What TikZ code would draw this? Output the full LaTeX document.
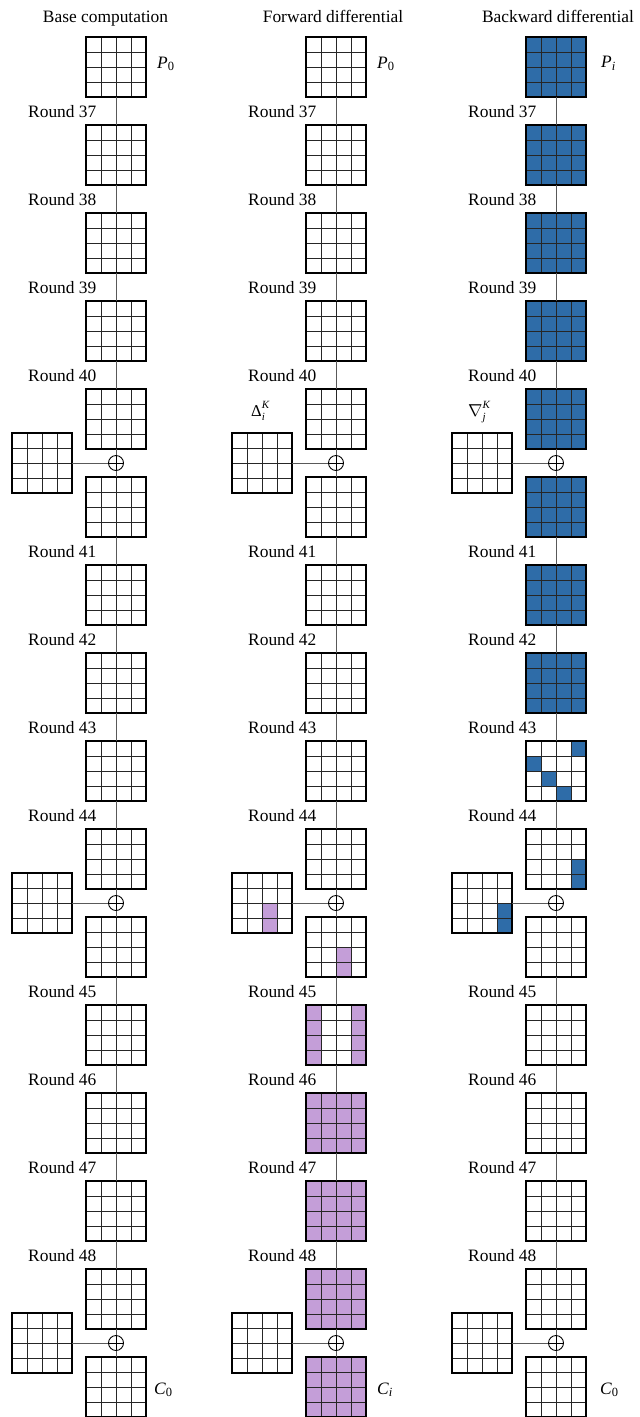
\documentclass[tikz,border=0pt]{standalone}
\usepackage{fontspec}
\setmainfont{Liberation Serif}
\usetikzlibrary{calc}
\definecolor{cblue}{RGB}{46,108,168}
\definecolor{cpurple}{RGB}{196,158,216}
\tikzset{
  gridbox/.style={rectangle, minimum width=60pt, minimum height=60pt, inner sep=0pt, outer sep=0pt, draw=none},
  outerline/.style={draw=black, line width=1.6pt},
  innerline/.style={draw=black!85, line width=1pt},
  conn/.style={draw=black!65, line width=1pt},
  xorop/.style={circle, draw=black, line width=0.9pt, minimum size=15pt, inner sep=0pt,
    path picture={\draw[line width=0.9pt] (path picture bounding box.north) -- (path picture bounding box.south)
      (path picture bounding box.west) -- (path picture bounding box.east);}},
  lbl/.style={anchor=base west, inner sep=0pt, font=\fontsize{17.4}{20}\selectfont},
  ttl/.style={anchor=base, inner sep=0pt, font=\fontsize{17.4}{20}\selectfont},
}
% #1 name, #2 left x, #3 top y, #4 base fill, #5 list of col/row/colour
\newcommand\cgrid[5]{%
  \node[gridbox, fill=#4] (#1) at (#2+30,#3+30) {};%
  \def\cglist{#5}%
  \ifx\cglist\empty\else
    \foreach \cgc/\cgr/\cgf in {#5}{\fill[\cgf] ($(#1.north west)+(\cgc*15,\cgr*15)$) rectangle +(15,15);}%
  \fi
  \foreach \cgi in {1,2,3}{%
    \draw[innerline] ($(#1.north west)+(\cgi*15,0)$) -- ($(#1.north west)+(\cgi*15,60)$);
    \draw[innerline] ($(#1.north west)+(0,\cgi*15)$) -- ($(#1.north west)+(60,\cgi*15)$);}%
  \draw[outerline] (#1.north west) rectangle (#1.south east);%
}
% #1 prefix, #2 left x of main grids
\newcommand\wiring[2]{%
  \node[xorop] (#1x1) at (#2+30,463) {};
  \node[xorop] (#1x2) at (#2+30,903) {};
  \node[xorop] (#1x3) at (#2+30,1343) {};
  \foreach \wa/\wb in {0/1,1/2,2/3,3/4,5/6,6/7,7/8,8/9,10/11,11/12,12/13,13/14}{%
    \draw[conn] (#1\wa.south) -- (#1\wb.north);}
  \draw[conn] (#14.south) -- (#1x1.north);
  \draw[conn] (#1x1.south) -- (#15.north);
  \draw[conn] (#19.south) -- (#1x2.north);
  \draw[conn] (#1x2.south) -- (#110.north);
  \draw[conn] (#114.south) -- (#1x3.north);
  \draw[conn] (#1x3.south) -- (#115.north);
  \draw[conn] (#1k1.east) -- (#1x1.west);
  \draw[conn] (#1k2.east) -- (#1x2.west);
  \draw[conn] (#1k3.east) -- (#1x3.west);
  \foreach \wn/\wg in {37/1,38/2,39/3,40/4,41/6,42/7,43/8,44/9,45/11,46/12,47/13,48/14}{%
    \node[lbl] (#1r\wn) at (#2-58,29.5+88*\wg) {Round \wn};}
}
\newcommand\subtxt[1]{\raisebox{-2.5pt}{\fontsize{12.5}{12}\selectfont #1}}
\newcommand\supsub[3]{#1\rlap{\raisebox{8pt}{\fontsize{11}{10}\selectfont\itshape #2}}\raisebox{-4.5pt}{\fontsize{11}{10}\selectfont\itshape #3}}
\begin{document}
\begin{tikzpicture}[x=1pt,y=-1pt]
\useasboundingbox (0,0) rectangle (640,1417);
% titles
\node[ttl] (t1) at (105.5,22.7) {Base computation};
\node[ttl] (t2) at (333,22.7) {Forward differential};
\node[ttl] (t3) at (558,22.7) {Backward differential};
% column 1
\foreach \k in {0,...,15}{\cgrid{a\k}{86}{37+88*\k}{white}{}}
\cgrid{ak1}{12}{433}{white}{}
\cgrid{ak2}{12}{873}{white}{}
\cgrid{ak3}{12}{1313}{white}{}
% column 2
\foreach \k in {0,...,9}{\cgrid{b\k}{306}{37+88*\k}{white}{}}
\cgrid{b10}{306}{917}{white}{2/2/cpurple,2/3/cpurple}
\cgrid{b11}{306}{1005}{white}{0/0/cpurple,0/1/cpurple,0/2/cpurple,0/3/cpurple,3/0/cpurple,3/1/cpurple,3/2/cpurple,3/3/cpurple}
\foreach \k in {12,...,15}{\cgrid{b\k}{306}{37+88*\k}{cpurple}{}}
\cgrid{bk1}{232}{433}{white}{}
\cgrid{bk2}{232}{873}{white}{2/2/cpurple,2/3/cpurple}
\cgrid{bk3}{232}{1313}{white}{}
% column 3
\foreach \k in {0,...,7}{\cgrid{c\k}{526}{37+88*\k}{cblue}{}}
\cgrid{c8}{526}{741}{white}{3/0/cblue,0/1/cblue,1/2/cblue,2/3/cblue}
\cgrid{c9}{526}{829}{white}{3/2/cblue,3/3/cblue}
\foreach \k in {10,...,15}{\cgrid{c\k}{526}{37+88*\k}{white}{}}
\cgrid{ck1}{452}{433}{white}{}
\cgrid{ck2}{452}{873}{white}{3/2/cblue,3/3/cblue}
\cgrid{ck3}{452}{1313}{white}{}
% wiring and round labels
\wiring{a}{86}
\wiring{b}{306}
\wiring{c}{526}
% state labels
\node[lbl] (pa) at (157,68.3) {\textit{P}\subtxt{0}};
\node[lbl] (pb) at (377,68.3) {\textit{P}\subtxt{0}};
\node[lbl] (pc) at (601,67.5) {\textit{P}\subtxt{\textit{i}}};
\node[lbl] (ca) at (154,1394) {\textit{C}\subtxt{0}};
\node[lbl] (cb) at (377,1394) {\textit{C}\subtxt{\textit{i}}};
\node[lbl] (cc) at (600,1394) {\textit{C}\subtxt{0}};
\node[lbl] (dk) at (251,416) {\supsub{\fontsize{16.5}{16}\selectfont Δ}{K}{i}};
\node[lbl] (nk) at (468,416) {\supsub{\fontsize{16.5}{16}\selectfont$\nabla$}{K}{j}};
\end{tikzpicture}
\end{document}
